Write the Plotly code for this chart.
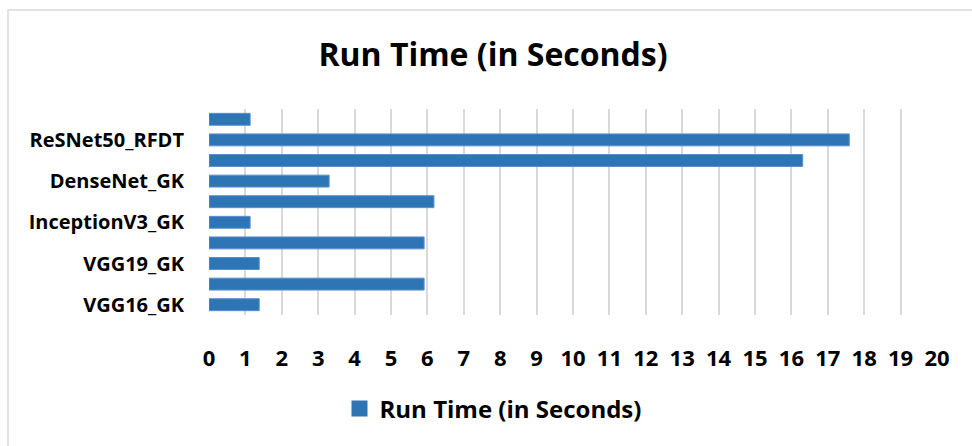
import plotly.graph_objects as go

categories = ["VGG16_GK", "VGG16_RFDT", "VGG19_GK", "VGG19_RFDT",
              "InceptionV3_GK", "InceptionV3_RFDT", "DenseNet_GK",
              "DenseNet_RFDT", "ReSNet50_RFDT", "ReSNet50_GK"]
run_time = [1.38, 5.91, 1.38, 5.91, 1.13, 6.18, 3.30, 16.31, 17.59, 1.13]
shown_labels = ["VGG16_GK", "VGG19_GK", "InceptionV3_GK", "DenseNet_GK", "ReSNet50_RFDT"]
x_ticks = list(range(0, 21))
series_name = "Run Time (in Seconds)"

FONT = "Open Sans"
BAR_COLOR = "#2e75b6"
W, H = 972, 446
L, R, T, B = 209, 35, 109, 131
pw, ph = W - L - R, H - T - B

def px(x):
    return (x - L) / pw

def py(y):
    return (H - B - y) / ph

fig = go.Figure()
fig.add_trace(go.Bar(
    y=categories, x=run_time, orientation="h", name=series_name,
    marker=dict(color=BAR_COLOR, line=dict(color="#5b8fd0", width=1)),
    showlegend=False,
))
# legend entry (square swatch like the original)
fig.add_trace(go.Scatter(
    x=[None], y=[None], mode="markers", name=series_name,
    marker=dict(symbol="square", size=18, color=BAR_COLOR),
    showlegend=True,
))

fig.update_layout(
    width=W, height=H,
    margin=dict(l=L, r=R, t=T, b=B),
    paper_bgcolor="white", plot_bgcolor="white",
    bargap=0.42,
    title=dict(text=series_name, x=493 / W, xanchor="center",
               y=1 - 55 / H, yanchor="middle",
               font=dict(family=FONT, size=32, color="black", weight="bold")),
    xaxis=dict(range=[0, 20], tickvals=x_ticks, showgrid=True, gridcolor="#d9d9d9",
               gridwidth=1.5, zeroline=False, showline=False,
               ticks="outside", ticklen=24, tickcolor="rgba(0,0,0,0)",
               tickfont=dict(family=FONT, size=22, color="black", weight="bold"),
               fixedrange=True),
    yaxis=dict(type="category", categoryorder="array", categoryarray=categories,
               tickvals=shown_labels, ticktext=shown_labels,
               ticks="outside", ticklen=20, tickcolor="rgba(0,0,0,0)",
               showgrid=False, showline=False,
               tickfont=dict(family=FONT, size=20, color="black", weight="bold"),
               fixedrange=True),
    legend=dict(orientation="h", x=px(493), xanchor="center", y=py(409), yanchor="middle",
                font=dict(family=FONT, size=24, color="black", weight="bold"),
                itemwidth=30),
    showlegend=True,
    shapes=[dict(type="rect", xref="paper", yref="paper",
                 x0=px(8), x1=px(990), y0=py(470), y1=py(10),
                 line=dict(color="#d9d9d9", width=1.5), fillcolor="rgba(0,0,0,0)",
                 layer="below")],
)

fig.write_html("out.html", config={"displayModeBar": False},
               post_script="document.body.style.margin='0';")
